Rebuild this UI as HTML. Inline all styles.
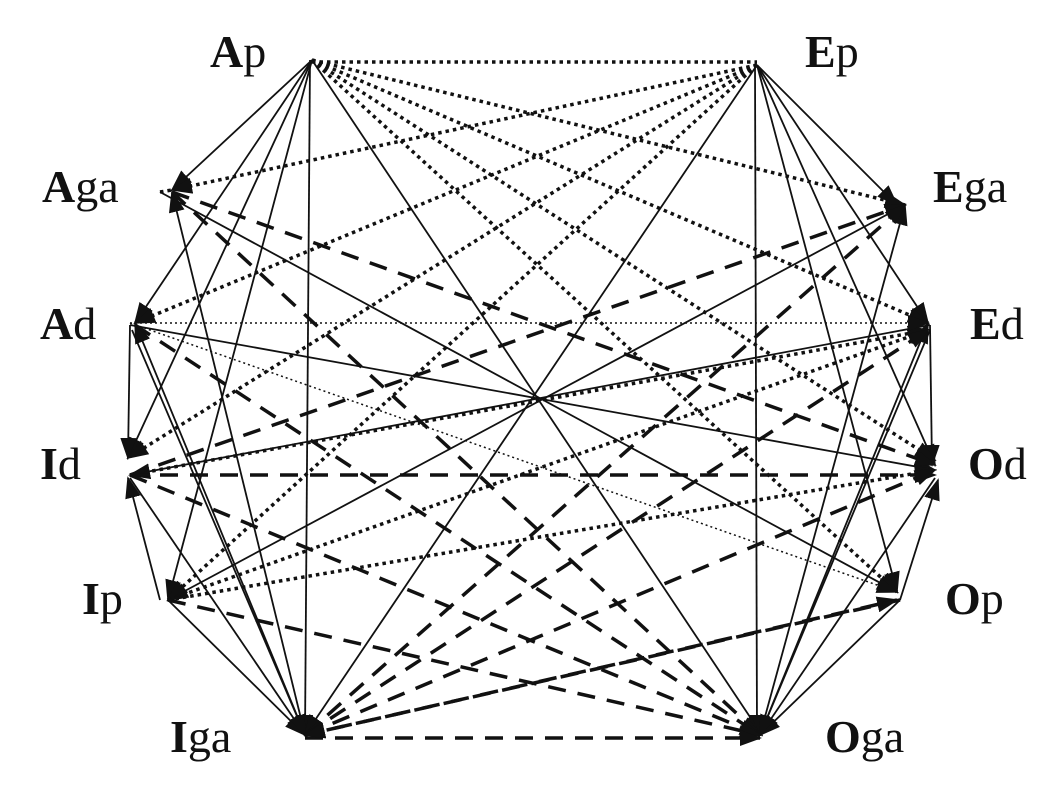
<!DOCTYPE html>
<html><head><meta charset="utf-8"><style>
html,body{margin:0;padding:0;background:#fff;}
svg{display:block}
text{font-family:"Liberation Serif",serif;font-size:46px;fill:#111}
.b{font-weight:bold}
</style></head><body>
<svg width="1063" height="786" viewBox="0 0 1063 786" xmlns="http://www.w3.org/2000/svg">
<defs>
<marker id="a" markerWidth="22" markerHeight="16" refX="20" refY="8" orient="auto" markerUnits="userSpaceOnUse" viewBox="0 0 22 16"><path d="M0,0 L22,8 L0,16 z" fill="#111"/></marker>
</defs>
<g stroke="#111" fill="none" marker-end="url(#a)">
<g stroke-width="1.8">
<path d="M312,60 L172,190"/>
<path d="M312,60 L135,323"/>
<path d="M312,60 L128,458"/>
<path d="M312,60 L168,600"/>
<path d="M310,60 L305,735"/>
<path d="M312,60 L762,735"/>
<path d="M757,65 L897,205"/>
<path d="M757,65 L928,323"/>
<path d="M757,65 L935,465"/>
<path d="M757,65 L897,592"/>
<path d="M755,65 L757,735"/>
<path d="M757,65 L305,735"/>
<path d="M130,325 L128,458"/>
<path d="M930,325 L932,465"/>
<path d="M130,325 L935,470"/>
<path d="M930,325 L130,475"/>
<path d="M160,192 L897,592"/>
<path d="M905,205 L168,600"/>
<path d="M305,735 L172,192"/>
<path d="M305,735 L135,323"/>
<path d="M160,600 L128,478"/>
<path d="M130,478 L305,735"/>
<path d="M168,600 L305,735"/>
<path d="M132,330 L305,735"/>
<path d="M760,735 L905,205"/>
<path d="M760,735 L928,323"/>
<path d="M900,600 L938,480"/>
<path d="M935,478 L760,735"/>
<path d="M900,600 L760,735"/>
<path d="M930,330 L760,735"/>
</g>
<g stroke-width="3.5" stroke-dasharray="3.5 4">
<path d="M312,62 L757,62" marker-end="none"/>
<path d="M312,60 L905,205"/>
<path d="M312,60 L928,323"/>
<path d="M312,60 L935,460"/>
<path d="M312,60 L897,592"/>
<path d="M757,65 L172,190"/>
<path d="M757,65 L135,323"/>
<path d="M757,65 L128,458"/>
<path d="M757,65 L168,600"/>
<path d="M168,600 L928,330"/>
<path d="M168,600 L935,470"/>
<path d="M130,475 L928,330"/>
<path d="M160,192 L172,190" marker-end="none"/>
</g>
<g stroke-width="1.5" stroke-dasharray="2 3">
<path d="M130,323 L928,323"/>
<path d="M130,323 L897,592"/>
</g>
<g stroke-width="3.5" stroke-dasharray="18 12">
<path d="M172,192 L935,465"/>
<path d="M172,192 L760,735"/>
<path d="M135,325 L760,735"/>
<path d="M130,475 L935,475"/>
<path d="M130,475 L760,735"/>
<path d="M130,475 L905,205"/>
<path d="M168,600 L760,735"/>
<path d="M305,738 L760,738"/>
<path d="M305,735 L905,205"/>
<path d="M305,735 L928,330"/>
<path d="M305,735 L935,470"/>
<path d="M305,735 L897,600"/>
<path d="M900,600 L305,735"/>
</g>
</g>
<text x="210" y="67"><tspan class="b">A</tspan>p</text>
<text x="805" y="67"><tspan class="b">E</tspan>p</text>
<text x="42" y="202"><tspan class="b">A</tspan>ga</text>
<text x="933" y="202"><tspan class="b">E</tspan>ga</text>
<text x="40" y="339"><tspan class="b">A</tspan>d</text>
<text x="970" y="339"><tspan class="b">E</tspan>d</text>
<text x="40" y="479"><tspan class="b">I</tspan>d</text>
<text x="968" y="479"><tspan class="b">O</tspan>d</text>
<text x="82" y="614"><tspan class="b">I</tspan>p</text>
<text x="945" y="614"><tspan class="b">O</tspan>p</text>
<text x="170" y="752"><tspan class="b">I</tspan>ga</text>
<text x="825" y="752"><tspan class="b">O</tspan>ga</text>
</svg>
</body></html>
